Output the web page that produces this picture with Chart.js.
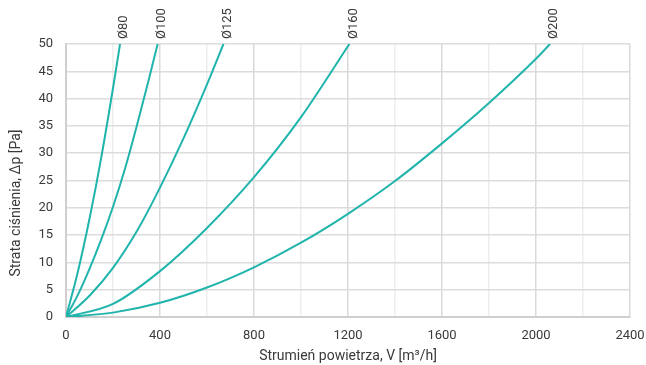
<!DOCTYPE html>
<html>
<head>
<meta charset="utf-8">
<script src="https://cdn.jsdelivr.net/npm/chart.js@4.4.1/dist/chart.umd.min.js"></script>
<style>
  html, body { margin: 0; padding: 0; background: #fff; }
  #wrap { width: 646px; height: 365px; }
</style>
</head>
<body>
<div id="wrap"><canvas id="chart" width="646" height="365"></canvas></div>
<script>
// values
const seriesNames = ["Ø80", "Ø100", "Ø125", "Ø160", "Ø200"];

const flow80 = [0, 50, 100, 150, 200, 230];
const dp80 = [0, 8.2, 18.0, 29.2, 41.9, 50];

const flow100 = [0, 50, 100, 150, 200, 250, 300, 350, 390];
const dp100 = [0, 4.0, 8.8, 14.2, 20.2, 27.0, 34.8, 43.1, 50];

const flow125 = [0, 100, 200, 300, 400, 500, 600, 670];
const dp125 = [0, 3.9, 9.0, 15.6, 23.7, 32.7, 42.6, 50];

const flow160 = [0, 200, 400, 600, 800, 1000, 1206];
const dp160 = [0, 2.4, 8.4, 16.3, 25.6, 36.6, 50];

const flow200 = [0, 200, 400, 600, 800, 1000, 1200, 1400, 1600, 1800, 2000, 2060];
const dp200 = [0, 0.8, 2.6, 5.4, 9.1, 13.6, 18.9, 24.9, 31.8, 39.2, 47.3, 50];

const xTicks = [0, 400, 800, 1200, 1600, 2000, 2400];
const yTicks = [0, 5, 10, 15, 20, 25, 30, 35, 40, 45, 50];

const lineColor = "#20b4ac";
const textColor = "#3a3a3a";
const fontFamily = "Roboto, 'DejaVu Sans', sans-serif";

const toPoints = (xs, ys) => xs.map((x, i) => ({ x: x, y: ys[i] }));
const allFlows = [flow80, flow100, flow125, flow160, flow200];
const allDp = [dp80, dp100, dp125, dp160, dp200];

const datasets = seriesNames.map((name, i) => ({
    label: name,
    data: toPoints(allFlows[i], allDp[i]),
    borderColor: lineColor,
    borderWidth: 2,
    pointRadius: 0,
    fill: false,
    cubicInterpolationMode: "monotone"
}));

// curve names written upright above the end of each line, plus the y title
const curveLabels = {
    id: "curveLabels",
    afterDraw(chart) {
        const ctx = chart.ctx;
        const top = chart.chartArea.top;
        ctx.save();
        ctx.fillStyle = textColor;
        ctx.font = "13px " + fontFamily;
        chart.data.datasets.forEach((ds, i) => {
            const meta = chart.getDatasetMeta(i);
            const last = meta.data[meta.data.length - 1];
            ctx.save();
            ctx.translate(last.x + 4, top - 5);
            ctx.rotate(-Math.PI / 2);
            ctx.textAlign = "left";
            ctx.textBaseline = "middle";
            ctx.fillText(ds.label, 0, 0);
            ctx.restore();
        });
        ctx.font = "14px " + fontFamily;
        ctx.translate(16, 203);
        ctx.rotate(-Math.PI / 2);
        ctx.textAlign = "center";
        ctx.textBaseline = "middle";
        ctx.fillText("Strata ciśnienia, Δp [Pa]", 0, 0);
        ctx.restore();
    }
};

new Chart(document.getElementById("chart"), {
    type: "line",
    data: { datasets: datasets },
    options: {
        responsive: false,
        animation: false,
        layout: { padding: { top: 44, right: 16, left: 0, bottom: 0 } },
        plugins: {
            legend: { display: false },
            tooltip: { enabled: false }
        },
        scales: {
            x: {
                type: "linear",
                min: 0,
                max: 2400,
                ticks: {
                    stepSize: 200,
                    color: textColor,
                    font: { family: fontFamily, size: 13 },
                    padding: 11,
                    maxRotation: 0,
                    autoSkip: false,
                    callback: (v) => (xTicks.includes(v) ? v : "")
                },
                grid: {
                    drawTicks: false,
                    color: (c) => (c.tick && c.tick.value % 400 === 0 ? "#d9d9d9" : "#eeeeee"),
                    lineWidth: 1.5
                },
                border: { color: "#cfcfcf", width: 2 },
                title: {
                    display: true,
                    text: "Strumień powietrza, V [m³/h]",
                    color: textColor,
                    font: { family: fontFamily, size: 14 },
                    padding: 0
                },
                afterFit: (scale) => {
                    scale.height = 48;
                    scale.paddingLeft = 0;
                    scale.paddingRight = 0;
                }
            },
            y: {
                min: 0,
                max: 50,
                ticks: {
                    stepSize: 5,
                    color: textColor,
                    font: { family: fontFamily, size: 13 },
                    padding: 13,
                    callback: (v) => (yTicks.includes(v) ? v : "")
                },
                grid: { drawTicks: false, color: "#dcdcdc", lineWidth: 1.5 },
                border: { color: "#cfcfcf", width: 2 },
                afterFit: (scale) => { scale.width = 66; }
            }
        }
    },
    plugins: [curveLabels]
});
</script>
</body>
</html>
